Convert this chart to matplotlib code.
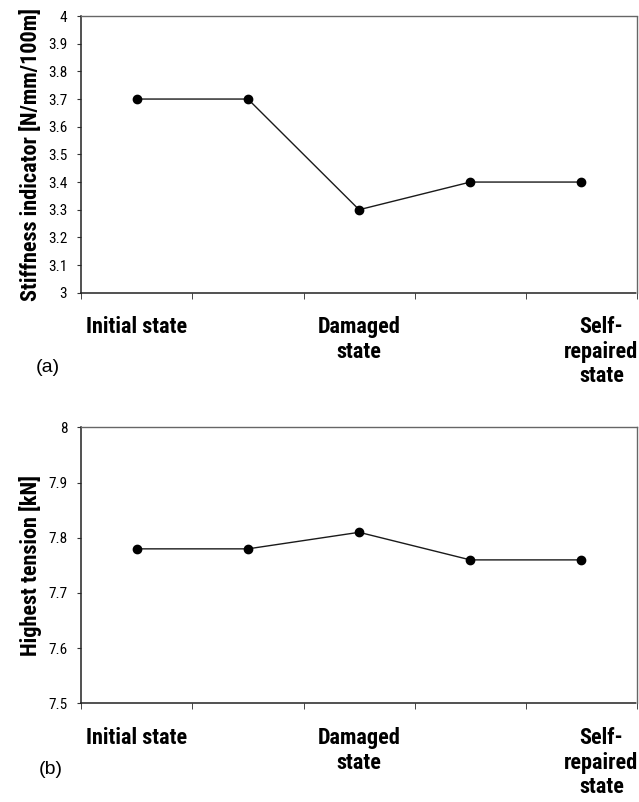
import matplotlib
matplotlib.use("Agg")
import matplotlib.pyplot as plt
import matplotlib.transforms as mtransforms
from matplotlib import font_manager
from matplotlib.ticker import FixedLocator, MultipleLocator, FuncFormatter

STATES = ["Initial state", "", "Damaged\nstate", "", "Self-\nrepaired\nstate"]
POSITIONS = [1, 2, 3, 4, 5]

STIFFNESS = [3.7, 3.7, 3.3, 3.4, 3.4]
TENSION = [7.78, 7.78, 7.81, 7.76, 7.76]

STIFF_LIMITS = (3.0, 4.0)
TENSION_LIMITS = (7.5, 8.0)

installed = {f.name for f in font_manager.fontManager.ttflist}
NARROW = "Liberation Sans"
for name in ["Liberation Sans Narrow", "Roboto Condensed", "Liberation Sans"]:
    if name in installed:
        NARROW = name
        break
REGULAR = "Liberation Sans" if "Liberation Sans" in installed else "DejaVu Sans"


def fmt_tick(value, _pos):
    return f"{round(value, 2):g}"


def style_panel(ax, values, limits, ylabel):
    ax.plot(POSITIONS, values, color="#1a1a1a", linewidth=1.0,
            marker="o", markersize=6, markerfacecolor="black",
            markeredgecolor="black", clip_on=False, zorder=3)

    ax.set_xlim(0.5, 5.5)
    ax.set_ylim(*limits)

    ax.yaxis.set_major_locator(MultipleLocator(0.1))
    ax.yaxis.set_major_formatter(FuncFormatter(fmt_tick))
    ax.tick_params(axis="y", direction="out", length=3, width=0.8,
                   color="#333333", pad=7)
    for label in ax.get_yticklabels():
        label.set_fontfamily(NARROW)
        label.set_fontsize(11)

    # category slot boundaries carry the tick marks, labels sit under slots
    ax.xaxis.set_major_locator(FixedLocator([p - 0.5 for p in POSITIONS] + [POSITIONS[-1] + 0.5]))
    ax.xaxis.set_major_formatter(FuncFormatter(lambda v, p: ""))
    ax.xaxis.set_minor_locator(FixedLocator(POSITIONS))
    ax.set_xticklabels(STATES, minor=True)
    ax.tick_params(axis="x", which="major", direction="out", length=4,
                   width=0.7, color="#444444")
    ax.tick_params(axis="x", which="minor", length=0, pad=17)
    for label in ax.get_xticklabels(minor=True):
        label.set_fontfamily(NARROW)
        label.set_fontweight("bold")
        label.set_fontsize(16)
        label.set_linespacing(1.15)
    last = ax.get_xticklabels(minor=True)[-1]
    shift = mtransforms.ScaledTranslation(0.2, 0, ax.figure.dpi_scale_trans)
    last.set_transform(last.get_transform() + shift)

    ax.set_ylabel(ylabel, fontfamily=NARROW, fontweight="bold",
                  fontsize=16, labelpad=4)

    ax.spines["left"].set_color("#222222")
    ax.spines["left"].set_linewidth(1.1)
    ax.spines["bottom"].set_color("#222222")
    ax.spines["bottom"].set_linewidth(1.1)
    ax.spines["bottom"].set_linestyle((0, (3, 1)))
    for side in ["top", "right"]:
        ax.spines[side].set_color("#666666")
        ax.spines[side].set_linewidth(1.0)
        ax.spines[side].set_linestyle((0, (1, 1)))


def main():
    fig = plt.figure(figsize=(6.39, 8.02), dpi=100)
    fig.patch.set_facecolor("white")

    ax_top = fig.add_axes([0.127, 0.635, 0.870, 0.345])
    ax_bot = fig.add_axes([0.127, 0.123, 0.870, 0.344])

    style_panel(ax_top, STIFFNESS, STIFF_LIMITS, "Stiffness indicator [N/mm/100m]")
    style_panel(ax_bot, TENSION, TENSION_LIMITS, "Highest tension [kN]")

    fig.text(0.075, 1 - 367 / 802, "(a)", fontfamily=REGULAR, fontsize=14,
             ha="center", va="center")
    fig.text(0.080, 1 - 770 / 802, "(b)", fontfamily=REGULAR, fontsize=14,
             ha="center", va="center")

    fig.savefig("out.png", dpi=100, facecolor="white")
    print("font used:", NARROW)


if __name__ == "__main__":
    main()
